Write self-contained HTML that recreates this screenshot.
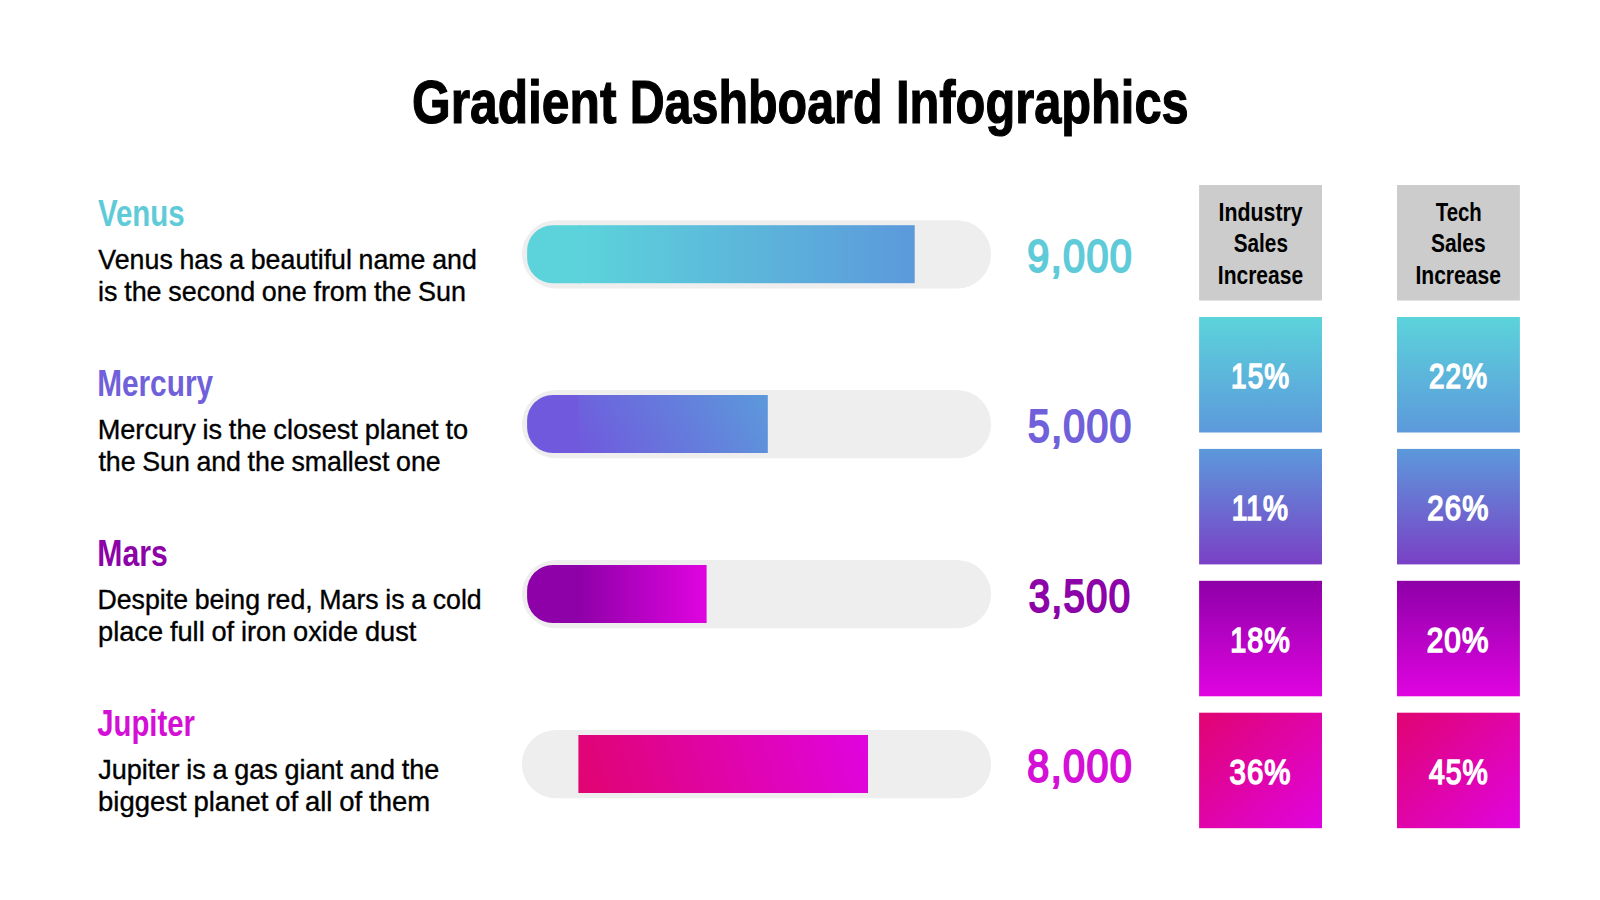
<!DOCTYPE html>
<html lang="en">
<head>
<meta charset="utf-8">
<title>Gradient Dashboard Infographics</title>
<style>
html,body{margin:0;padding:0;background:#fff;}
body{width:1600px;height:900px;overflow:hidden;}
svg{display:block;}
text{font-family:"Liberation Sans",sans-serif;}
.b{font-weight:bold;}
</style>
</head>
<body>
<svg width="1600" height="900" viewBox="0 0 1600 900">
<defs>
<linearGradient id="b1" gradientUnits="userSpaceOnUse" x1="578.40" y1="225.20" x2="914.70" y2="225.20"><stop offset="0" stop-color="#5cd3db"/><stop offset="1" stop-color="#5c99db"/></linearGradient>
<linearGradient id="b2" gradientUnits="userSpaceOnUse" x1="578.40" y1="453.00" x2="745.56" y2="356.49"><stop offset="0" stop-color="#7059dd"/><stop offset="1" stop-color="#5c99db"/></linearGradient>
<linearGradient id="b3" gradientUnits="userSpaceOnUse" x1="578.40" y1="565.00" x2="706.60" y2="565.00"><stop offset="0" stop-color="#8e00a8"/><stop offset="1" stop-color="#e004e0"/></linearGradient>
<linearGradient id="b4" gradientUnits="userSpaceOnUse" x1="578.40" y1="793.00" x2="863.10" y2="716.71"><stop offset="0" stop-color="#e00471"/><stop offset="1" stop-color="#e004e0"/></linearGradient>
<linearGradient id="g1" x1="0" y1="0" x2="0" y2="1"><stop offset="0" stop-color="#5cd3db"/><stop offset="1" stop-color="#5c99db"/></linearGradient>
<linearGradient id="g2" x1="0" y1="0" x2="0" y2="1"><stop offset="0" stop-color="#5c99db"/><stop offset="1" stop-color="#7a40c6"/></linearGradient>
<linearGradient id="g3" x1="0" y1="0" x2="0" y2="1"><stop offset="0" stop-color="#8e00a8"/><stop offset="1" stop-color="#e004e0"/></linearGradient>
<linearGradient id="g4" x1="0" y1="0" x2="1" y2="1"><stop offset="0" stop-color="#e00471"/><stop offset="1" stop-color="#e004e0"/></linearGradient>
</defs>
<rect width="1600" height="900" fill="#ffffff"/>
<rect x="521.9" y="220.2" width="469.2" height="68.3" rx="34.15" fill="#eeeeee"/>
<path d="M580.40 225.2 H552.60 A25.5 25.5 0 0 0 527.1 250.70 V257.70 A25.5 25.5 0 0 0 552.60 283.20 H580.40 Z" fill="#5cd3db"/>
<rect x="578.4" y="225.2" width="336.30" height="58.0" fill="url(#b1)"/>
<rect x="521.9" y="390.0" width="469.2" height="68.3" rx="34.15" fill="#eeeeee"/>
<path d="M580.40 395.0 H552.60 A25.5 25.5 0 0 0 527.1 420.50 V427.50 A25.5 25.5 0 0 0 552.60 453.00 H580.40 Z" fill="#7059dd"/>
<rect x="578.4" y="395.0" width="189.40" height="58.0" fill="url(#b2)"/>
<rect x="521.9" y="560.0" width="469.2" height="68.3" rx="34.15" fill="#eeeeee"/>
<path d="M580.40 565.0 H552.60 A25.5 25.5 0 0 0 527.1 590.50 V597.50 A25.5 25.5 0 0 0 552.60 623.00 H580.40 Z" fill="#8e00a8"/>
<rect x="578.4" y="565.0" width="128.20" height="58.0" fill="url(#b3)"/>
<rect x="521.9" y="730.0" width="469.2" height="68.3" rx="34.15" fill="#eeeeee"/>
<rect x="578.4" y="735.0" width="289.60" height="58.0" fill="url(#b4)"/>
<rect x="1199.1" y="185.0" width="122.9" height="115.5" fill="#cccccc"/>
<rect x="1199.1" y="317.0" width="122.9" height="115.5" fill="url(#g1)"/>
<rect x="1199.1" y="448.9" width="122.9" height="115.5" fill="url(#g2)"/>
<rect x="1199.1" y="580.8" width="122.9" height="115.5" fill="url(#g3)"/>
<rect x="1199.1" y="712.7" width="122.9" height="115.5" fill="url(#g4)"/>
<rect x="1397.0" y="185.0" width="122.9" height="115.5" fill="#cccccc"/>
<rect x="1397.0" y="317.0" width="122.9" height="115.5" fill="url(#g1)"/>
<rect x="1397.0" y="448.9" width="122.9" height="115.5" fill="url(#g2)"/>
<rect x="1397.0" y="580.8" width="122.9" height="115.5" fill="url(#g3)"/>
<rect x="1397.0" y="712.7" width="122.9" height="115.5" fill="url(#g4)"/>
<text font-size="61" fill="#000000" class="b" stroke="#000000" stroke-width="1.2"><tspan x="411.96" y="123.00" textLength="204.52" lengthAdjust="spacingAndGlyphs">Gradient</tspan> <tspan x="629.66" y="123.00" textLength="252.80" lengthAdjust="spacingAndGlyphs">Dashboard</tspan> <tspan x="896.02" y="123.00" textLength="292.63" lengthAdjust="spacingAndGlyphs">Infographics</tspan></text>
<text font-size="36.4" fill="#5fcbd8" class="b"><tspan x="97.88" y="225.90" textLength="86.67" lengthAdjust="spacingAndGlyphs">Venus</tspan></text>
<text font-size="36.4" fill="#7060da" class="b"><tspan x="97.15" y="395.90" textLength="115.92" lengthAdjust="spacingAndGlyphs">Mercury</tspan></text>
<text font-size="36.4" fill="#8c03a8" class="b"><tspan x="97.30" y="565.90" textLength="70.41" lengthAdjust="spacingAndGlyphs">Mars</tspan></text>
<text font-size="36.4" fill="#d40fd6" class="b"><tspan x="97.17" y="735.90" textLength="97.78" lengthAdjust="spacingAndGlyphs">Jupiter</tspan></text>
<text font-size="27.2" fill="#000000" word-spacing="-0.8" stroke="#000000" stroke-width="0.35"><tspan x="98.36" y="269.40" textLength="378.45" lengthAdjust="spacingAndGlyphs">Venus has a beautiful name and</tspan> <tspan x="98.02" y="300.65" textLength="367.98" lengthAdjust="spacingAndGlyphs">is the second one from the Sun</tspan></text>
<text font-size="27.2" fill="#000000" word-spacing="-0.8" stroke="#000000" stroke-width="0.35"><tspan x="97.63" y="439.40" textLength="370.42" lengthAdjust="spacingAndGlyphs">Mercury is the closest planet to</tspan> <tspan x="98.42" y="470.65" textLength="342.24" lengthAdjust="spacingAndGlyphs">the Sun and the smallest one</tspan></text>
<text font-size="27.2" fill="#000000" word-spacing="-0.8" stroke="#000000" stroke-width="0.35"><tspan x="97.47" y="609.40" textLength="384.23" lengthAdjust="spacingAndGlyphs">Despite being red, Mars is a cold</tspan> <tspan x="98.04" y="640.65" textLength="318.37" lengthAdjust="spacingAndGlyphs">place full of iron oxide dust</tspan></text>
<text font-size="27.2" fill="#000000" word-spacing="-0.8" stroke="#000000" stroke-width="0.35"><tspan x="98.24" y="779.40" textLength="341.04" lengthAdjust="spacingAndGlyphs">Jupiter is a gas giant and the</tspan> <tspan x="98.01" y="810.65" textLength="332.14" lengthAdjust="spacingAndGlyphs">biggest planet of all of them</tspan></text>
<text font-size="45.4" fill="#5fcbd8" letter-spacing="1.6" stroke="#5fcbd8" stroke-width="2.1"><tspan x="1027.25" y="272.10" textLength="105.91" lengthAdjust="spacingAndGlyphs">9,000</tspan></text>
<text font-size="45.4" fill="#7060da" letter-spacing="1.6" stroke="#7060da" stroke-width="2.1"><tspan x="1028.07" y="442.10" textLength="104.49" lengthAdjust="spacingAndGlyphs">5,000</tspan></text>
<text font-size="45.4" fill="#8c03a8" letter-spacing="1.6" stroke="#8c03a8" stroke-width="2.1"><tspan x="1028.84" y="612.10" textLength="102.44" lengthAdjust="spacingAndGlyphs">3,500</tspan></text>
<text font-size="45.4" fill="#d40fd6" letter-spacing="1.6" stroke="#d40fd6" stroke-width="2.1"><tspan x="1027.34" y="782.10" textLength="105.82" lengthAdjust="spacingAndGlyphs">8,000</tspan></text>
<text font-size="26.5" fill="#000000" class="b"><tspan x="1218.53" y="220.50" textLength="84.16" lengthAdjust="spacingAndGlyphs">Industry</tspan> <tspan x="1233.75" y="252.30" textLength="54.19" lengthAdjust="spacingAndGlyphs">Sales</tspan> <tspan x="1217.81" y="284.00" textLength="85.36" lengthAdjust="spacingAndGlyphs">Increase</tspan></text>
<text font-size="26.5" fill="#000000" class="b"><tspan x="1435.75" y="220.50" textLength="46.07" lengthAdjust="spacingAndGlyphs">Tech</tspan> <tspan x="1430.90" y="252.30" textLength="54.81" lengthAdjust="spacingAndGlyphs">Sales</tspan> <tspan x="1415.39" y="284.00" textLength="85.65" lengthAdjust="spacingAndGlyphs">Increase</tspan></text>
<text font-size="34.6" fill="#ffffff" letter-spacing="1.3" stroke="#ffffff" stroke-width="1.7"><tspan x="1231.10" y="388.20" textLength="58.97" lengthAdjust="spacingAndGlyphs">15%</tspan></text>
<text font-size="34.6" fill="#ffffff" letter-spacing="1.3" stroke="#ffffff" stroke-width="1.7"><tspan x="1429.05" y="388.20" textLength="58.91" lengthAdjust="spacingAndGlyphs">22%</tspan></text>
<text font-size="34.6" fill="#ffffff" letter-spacing="1.3" stroke="#ffffff" stroke-width="1.7"><tspan x="1231.68" y="520.00" textLength="57.22" lengthAdjust="spacingAndGlyphs">11%</tspan></text>
<text font-size="34.6" fill="#ffffff" letter-spacing="1.3" stroke="#ffffff" stroke-width="1.7"><tspan x="1427.36" y="520.00" textLength="62.06" lengthAdjust="spacingAndGlyphs">26%</tspan></text>
<text font-size="34.6" fill="#ffffff" letter-spacing="1.3" stroke="#ffffff" stroke-width="1.7"><tspan x="1230.17" y="651.90" textLength="60.80" lengthAdjust="spacingAndGlyphs">18%</tspan></text>
<text font-size="34.6" fill="#ffffff" letter-spacing="1.3" stroke="#ffffff" stroke-width="1.7"><tspan x="1426.63" y="651.90" textLength="62.81" lengthAdjust="spacingAndGlyphs">20%</tspan></text>
<text font-size="34.6" fill="#ffffff" letter-spacing="1.3" stroke="#ffffff" stroke-width="1.7"><tspan x="1229.50" y="783.70" textLength="62.09" lengthAdjust="spacingAndGlyphs">36%</tspan></text>
<text font-size="34.6" fill="#ffffff" letter-spacing="1.3" stroke="#ffffff" stroke-width="1.7"><tspan x="1428.89" y="783.70" textLength="59.94" lengthAdjust="spacingAndGlyphs">45%</tspan></text>
</svg>
</body>
</html>
